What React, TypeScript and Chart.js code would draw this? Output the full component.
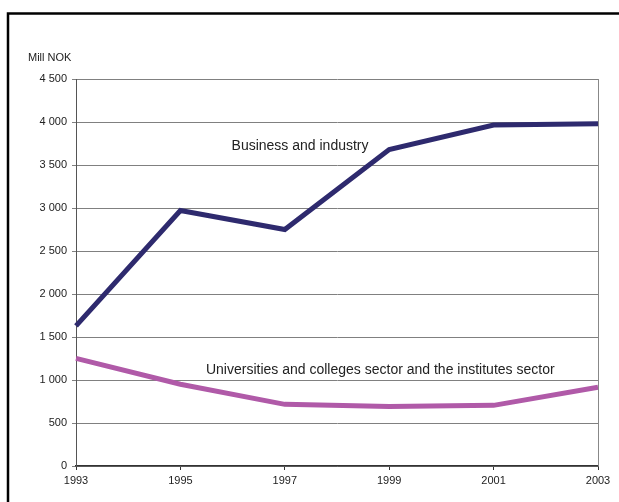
import React, { useEffect, useRef } from "react";
import { Chart, registerables } from "chart.js";

Chart.register(...registerables);

const years = ["1993", "1995", "1997", "1999", "2001", "2003"];
const business = [1630, 2970, 2750, 3680, 3965, 3980];
const universities = [1252, 950, 717, 692, 705, 915];
const yTicks = [0, 500, 1000, 1500, 2000, 2500, 3000, 3500, 4000, 4500];
const businessLabel = "Business and industry";
const universitiesLabel = "Universities and colleges sector and the institutes sector";
const unitLabel = "Mill NOK";

const FONT = "'Liberation Sans', Arial, sans-serif";

const decorPlugin = {
  id: "decor",
  afterDraw(chart: any) {
    const ctx = chart.ctx;
    const { right, top, bottom } = chart.chartArea;
    const xs = chart.scales.x;
    const ys = chart.scales.y;
    ctx.save();
    // outer frame (left and top)
    ctx.strokeStyle = "#000";
    ctx.lineWidth = 2.5;
    ctx.beginPath();
    ctx.moveTo(8, chart.height);
    ctx.lineTo(8, 13.5);
    ctx.lineTo(chart.width, 13.5);
    ctx.stroke();
    // right edge of plot
    ctx.strokeStyle = "#888";
    ctx.lineWidth = 1;
    ctx.beginPath();
    ctx.moveTo(right + 0.5, top);
    ctx.lineTo(right + 0.5, bottom);
    ctx.stroke();
    // unit label
    ctx.fillStyle = "#222";
    ctx.font = "11px " + FONT;
    ctx.textAlign = "left";
    ctx.textBaseline = "middle";
    ctx.fillText(unitLabel, 28, 58);
    // series labels
    ctx.font = "14px " + FONT;
    ctx.fillStyle = "#222";
    ctx.fillText(businessLabel, xs.getPixelForValue(1.49), ys.getPixelForValue(3720));
    ctx.fillText(universitiesLabel, xs.getPixelForValue(1.245), ys.getPixelForValue(1116));
    ctx.restore();
  },
};

export default function App() {
  const ref = useRef<HTMLCanvasElement>(null);
  useEffect(() => {
    if (!ref.current) return;
    const chart = new Chart(ref.current, {
      type: "line",
      data: {
        labels: years,
        datasets: [
          {
            data: business,
            borderColor: "#2E2A6E",
            borderWidth: 5,
            pointRadius: 0,
            tension: 0,
            fill: false,
          },
          {
            data: universities,
            borderColor: "#B05AA8",
            borderWidth: 5,
            pointRadius: 0,
            tension: 0,
            fill: false,
          },
        ],
      },
      options: {
        responsive: false,
        animation: false,
        devicePixelRatio: 1,
        layout: { padding: { left: 10, right: 21, top: 79, bottom: 0 } },
        plugins: {
          legend: { display: false },
          tooltip: { enabled: false },
          title: { display: false },
        },
        scales: {
          x: {
            type: "category",
            offset: false,
            grid: {
              drawOnChartArea: false,
              drawTicks: true,
              tickLength: 4,
              color: "#333",
            },
            border: { display: true, color: "#333", width: 1.5 },
            ticks: {
              color: "#222",
              font: { family: FONT, size: 11 },
              padding: 4,
              maxRotation: 0,
              autoSkip: false,
            },
            afterFit: (s: any) => {
              s.height = 36;
            },
          },
          y: {
            min: 0,
            max: 4500,
            afterBuildTicks: (s: any) => {
              s.ticks = yTicks.map((v) => ({ value: v }));
            },
            grid: {
              color: "#808080",
              lineWidth: 1,
              drawTicks: true,
              tickLength: 4,
            },
            border: { display: true, color: "#555", width: 1 },
            ticks: {
              color: "#222",
              font: { family: FONT, size: 11 },
              padding: 5,
              callback: (v: any) =>
                String(v).replace(/\B(?=(\d{3})+(?!\d))/g, " "),
            },
            afterFit: (s: any) => {
              s.width = 66;
            },
          },
        },
      },
      plugins: [decorPlugin],
    });
    return () => chart.destroy();
  }, []);
  return (
    <div style={{ position: "fixed", left: 0, top: 0, width: 619, height: 502, background: "#fff" }}>
      <canvas ref={ref} width={619} height={502} style={{ display: "block" }} />
    </div>
  );
}
